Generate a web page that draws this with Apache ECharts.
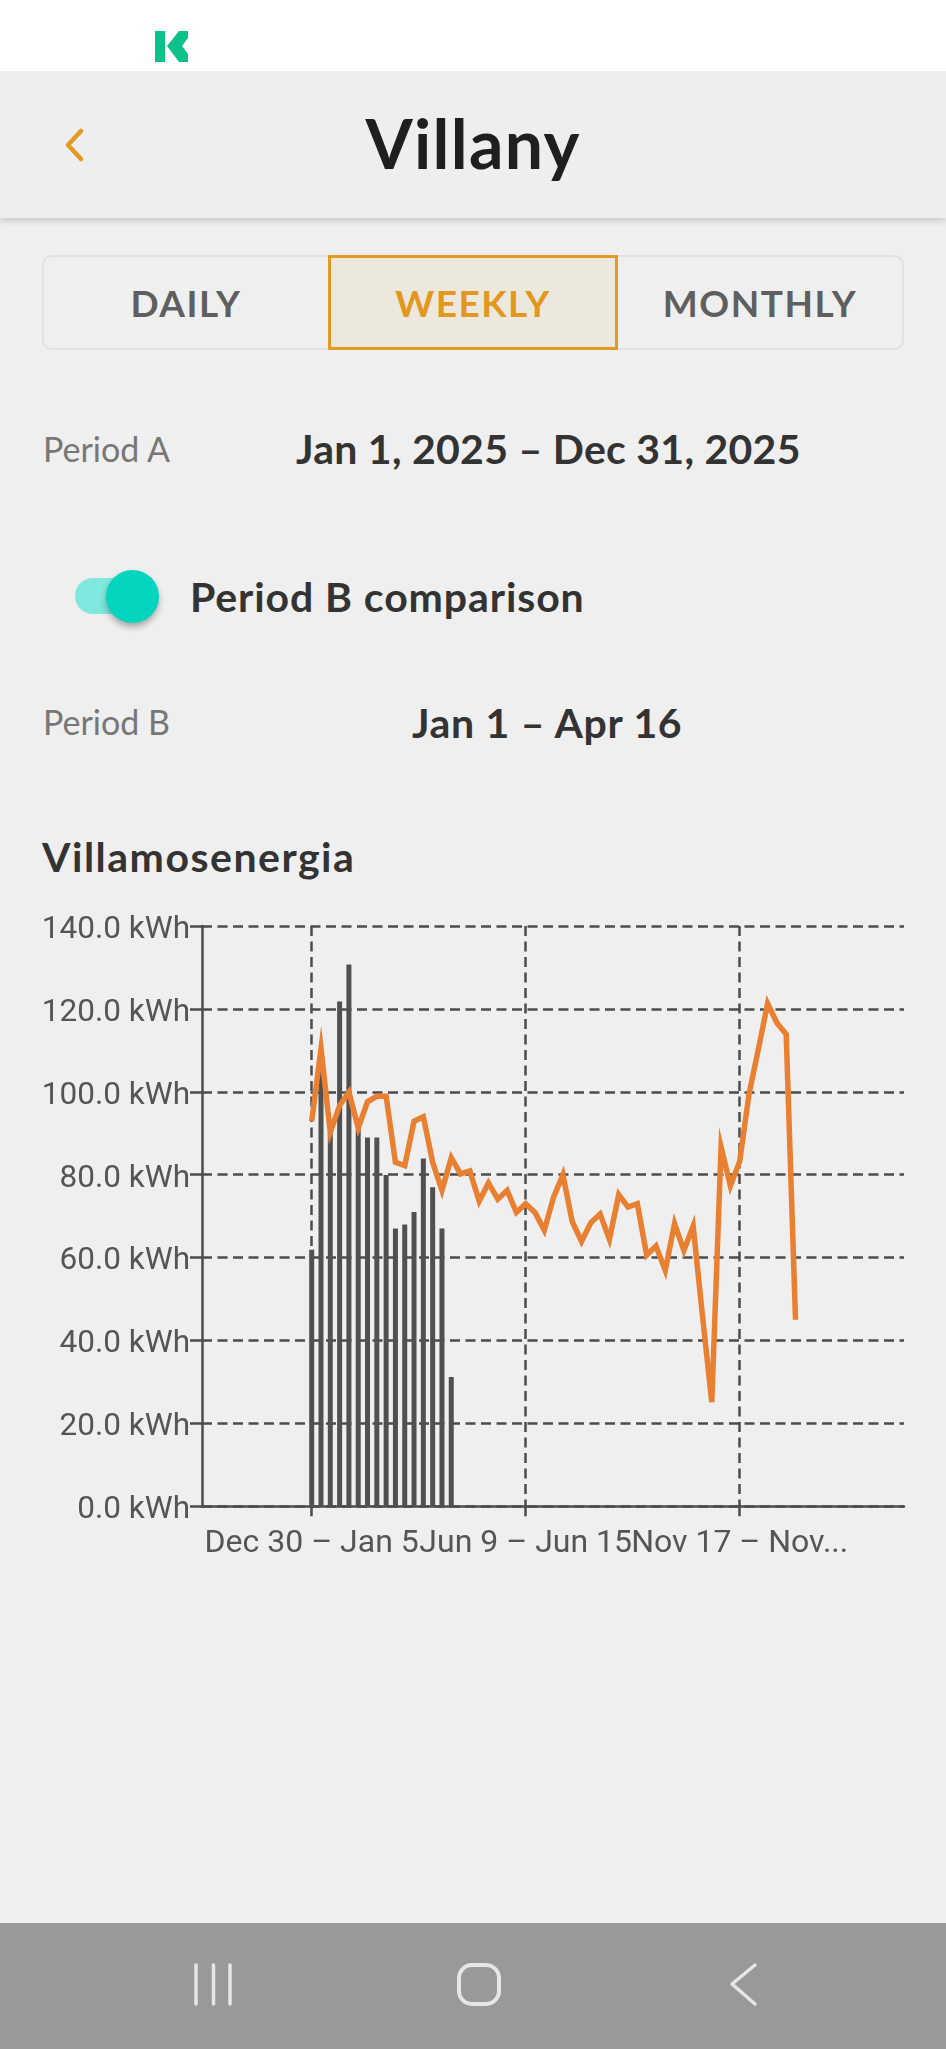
<!DOCTYPE html>
<html>
<head>
<meta charset="utf-8">
<title>Villany</title>
<script src="https://cdn.jsdelivr.net/npm/echarts@6/dist/echarts.min.js"></script>
<style>
  html, body { margin: 0; padding: 0; background: #efefef; }
  body { position: relative; width: 946px; height: 2049px; overflow: hidden; font-family: Lato, "Noto Sans", sans-serif; }
  .abs { position: absolute; white-space: nowrap; }
  #status { left: 0; top: 0; width: 946px; height: 71px; background: #fff; z-index: 2; }
  #header { left: 0; top: 71px; width: 946px; height: 147px; background: #eee; box-shadow: 0 2px 8px rgba(0,0,0,.2); }
  #title { left: 0; width: 946px; top: 100px; text-align: center; font-size: 68px; line-height: 86px; font-weight: 700; letter-spacing: 1.3px; color: #1f1f1f; }
  #tabs { left: 42px; top: 255px; width: 858px; height: 91px; border: 2px solid #e2e2e2; border-radius: 10px; }
  #active { left: 328px; top: 255px; width: 284px; height: 89px; background: #ece8de; border: 3px solid #e39a24; }
  .tab { top: 280px; font-size: 37px; line-height: 46px; font-weight: 700; letter-spacing: 1.5px; color: #5f5f5f; text-align: center; }
  .label { left: 43px; font-size: 34px; line-height: 40px; color: #777; }
  .value { font-size: 41px; line-height: 50px; font-weight: 700; color: #333; }
  #track { left: 75px; top: 578px; width: 60px; height: 36px; background: #7fe9dd; border-radius: 18px; }
  #thumb { left: 106px; top: 570px; width: 53px; height: 53px; background: #04d5bf; border-radius: 50%; box-shadow: 0 4px 6px rgba(0,0,0,.3); }
  #main { left: 0; top: 880px; width: 946px; height: 700px; }
  #nav { left: 0; top: 1923px; width: 946px; height: 126px; background: #999; }
</style>
</head>
<body>
<div class="abs" id="status"></div>
<svg class="abs" style="left:155px;top:31px;z-index:3" width="34" height="32" viewBox="0 0 34 32">
  <path d="M0 0H10V31H0Z M12 15L24 0H33V7L27 15L33 23V31H24Z" fill="#0cc28a"/>
  <path d="M33 10L29 15L33 20Z" fill="#fff"/>
</svg>
<div class="abs" id="header"></div>
<svg class="abs" style="left:62px;top:127px" width="24" height="36" viewBox="0 0 24 36">
  <path d="M19 4L6 18L19 32" fill="none" stroke="#e39a24" stroke-width="4.5" stroke-linecap="round" stroke-linejoin="round"/>
</svg>
<div class="abs" id="title">Villany</div>

<div class="abs" id="tabs"></div>
<div class="abs" id="active"></div>
<div class="abs tab" style="left:43px;width:286px">DAILY</div>
<div class="abs tab" style="left:328px;width:290px;color:#e2971d">WEEKLY</div>
<div class="abs tab" style="left:617px;width:286px">MONTHLY</div>

<div class="abs label" style="top:429px">Period A</div>
<div class="abs value" style="left:296px;top:424px;letter-spacing:.27px">Jan 1, 2025 – Dec 31, 2025</div>
<div class="abs" id="track"></div>
<div class="abs" id="thumb"></div>
<div class="abs value" style="left:190px;top:572px;letter-spacing:.9px">Period B comparison</div>
<div class="abs label" style="top:702px">Period B</div>
<div class="abs value" style="left:412px;top:698px;letter-spacing:.7px">Jan 1 – Apr 16</div>
<div class="abs value" style="left:42px;top:832px;letter-spacing:1.5px">Villamosenergia</div>

<div class="abs" id="main"></div>

<div class="abs" id="nav"></div>
<svg class="abs" style="left:0;top:1923px" width="946" height="126" viewBox="0 1923 946 126">
  <g fill="none" stroke="#e6e6e6" stroke-width="3.5" stroke-linecap="round" stroke-linejoin="round">
    <path d="M196 1965V2004M213.5 1965V2004M230 1965V2004"/>
    <rect x="459" y="1965" width="40" height="39" rx="13" stroke-width="4"/>
    <path d="M755 1965L732 1984L755 2004"/>
  </g>
</svg>

<script>
// week index of each tick and its label
const tickWeeks = [0, 23, 46];
const tickLabels = ["Dec 30 – Jan 5", "Jun 9 – Jun 15", "Nov 17 – Nov..."];
const yTicksMax = 140;

// Period B, bars
const periodB = [61.9, 105, 90, 121.8, 130.7, 91, 89, 89, 79.9, 67, 68, 71, 83.9, 77, 67, 31.2];

// Period A, line
const periodA = [
  92.9, 110.4, 90.2, 96.7, 99.9, 91.3, 97.6, 98.9, 98.9, 83, 82.2, 92.9, 94, 83,
  76.2, 84.1, 80.2, 80.9, 73.6, 78, 74.1, 76.2, 70.9, 73, 70.9, 66.6, 74.6, 80,
  68.7, 63.9, 68.4, 70.5, 64.4, 75.2, 72.2, 73, 60.6, 62.8, 56.9, 68.2, 61.7, 67.6,
  46, 25.1, 86.7, 77.3, 83.2, 99.4, 110.2, 121.3, 116.6, 113.9, 45
];

const axisColor = "#4c4c4c";
const dashed = { color: axisColor, width: 2.5, type: [10, 5.5] };
const axisStroke = { color: axisColor, width: 2.5 };
const weekLabel = {
  hideOverlap: false,
  showMinLabel: true,
  showMaxLabel: true,
  margin: 22,
  fontFamily: "Roboto",
  fontSize: 32,
  color: "#555",
  formatter: v => tickLabels[tickWeeks.indexOf(v)] || ""
};

const myChart = echarts.init(document.getElementById("main"));
myChart.setOption({
  animation: false,
  backgroundColor: "transparent",
  grid: { left: 202, right: 42, top: 46, height: 580.3, containLabel: false },
  xAxis: [
    {
      type: "value",
      min: -11.79,
      max: 63.66,
      axisLine: { onZero: false, lineStyle: axisStroke },
      axisTick: { show: true, length: 10, customValues: tickWeeks, lineStyle: axisStroke },
      axisLabel: { ...weekLabel, customValues: [tickWeeks[0], tickWeeks[2]] },
      splitLine: { show: true, lineStyle: dashed, customValues: tickWeeks }
    },
    // the labels touch in the app, and one axis would drop the middle one
    {
      type: "value",
      position: "bottom",
      min: -11.79,
      max: 63.66,
      axisLine: { show: false, onZero: false },
      axisTick: { show: false },
      axisLabel: { ...weekLabel, customValues: [tickWeeks[1]] },
      splitLine: { show: false }
    }
  ],
  yAxis: {
    type: "value",
    min: 0,
    max: yTicksMax,
    interval: 20,
    axisLine: { show: true, onZero: false, lineStyle: axisStroke },
    axisTick: { show: true, length: 12, lineStyle: axisStroke },
    axisLabel: {
      margin: 12,
      verticalAlign: "top",
      lineHeight: 8,
      fontFamily: "Roboto",
      fontSize: 31.5,
      color: "#555",
      formatter: v => v.toFixed(1) + " kWh"
    },
    splitLine: { show: true, lineStyle: dashed }
  },
  series: [
    {
      name: "Period B",
      type: "bar",
      barWidth: 5,
      itemStyle: { color: "#505050" },
      data: periodB.map((v, i) => [i, v])
    },
    {
      name: "Period A",
      type: "line",
      symbol: "none",
      lineStyle: { color: "#e87f31", width: 5.5, join: "miter", miterLimit: 10 },
      data: periodA.map((v, i) => [i, v])
    }
  ]
});
</script>
</body>
</html>
